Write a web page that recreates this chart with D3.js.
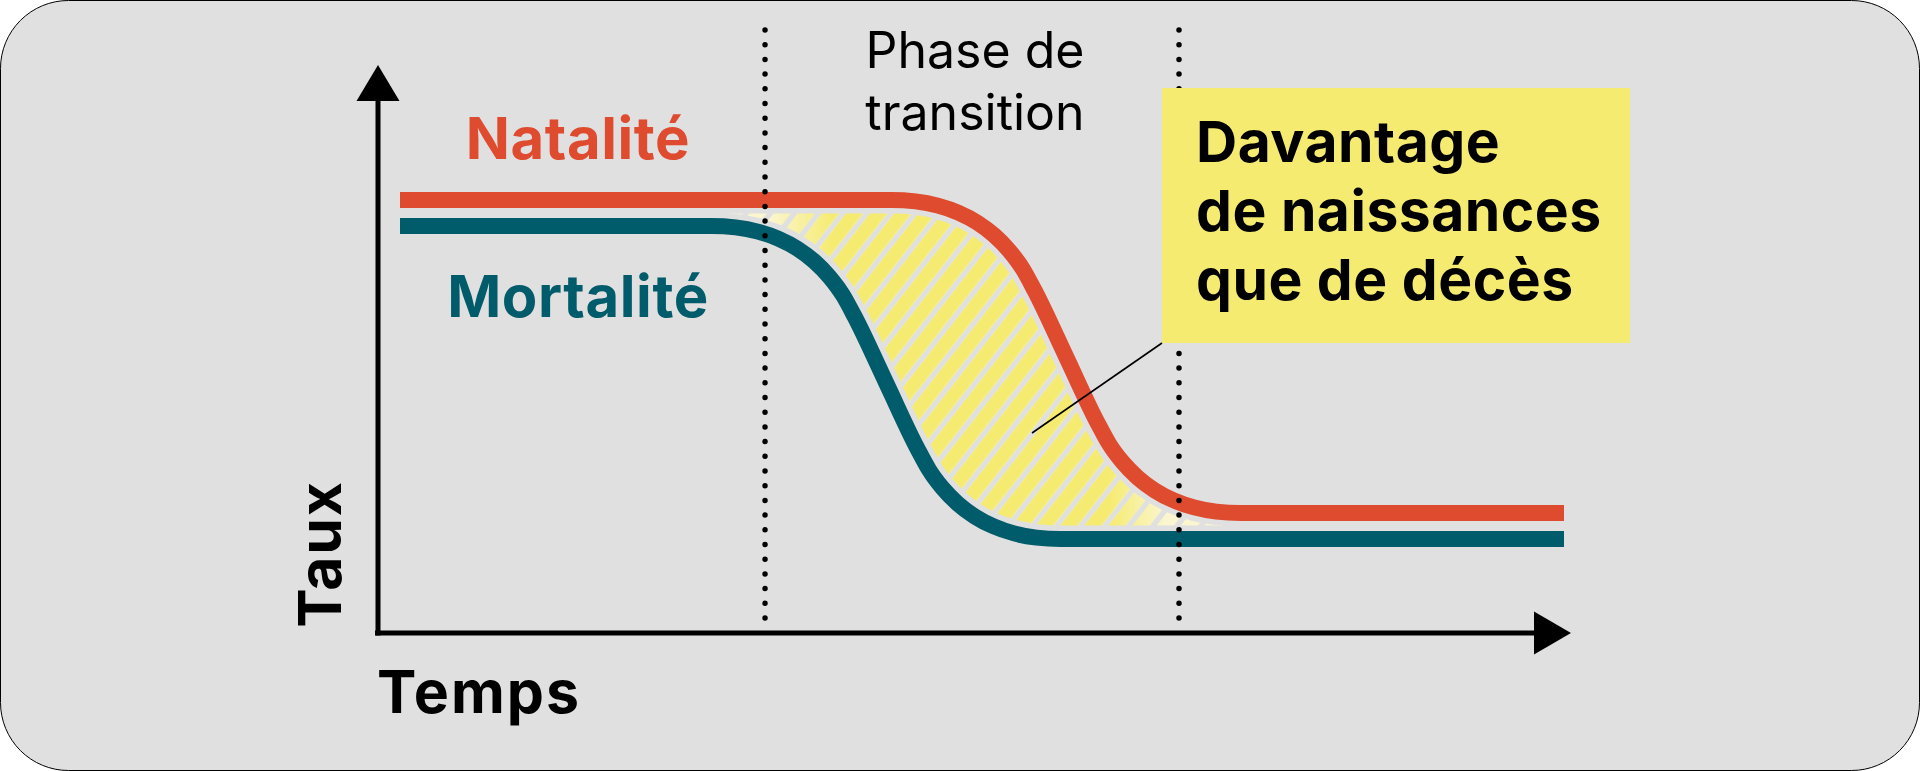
<!DOCTYPE html>
<html lang="fr">
<head>
<meta charset="utf-8">
<script src="https://cdn.jsdelivr.net/npm/d3@7"></script>
<style>
  html, body { margin: 0; padding: 0; background: #fff; }
  svg { display: block; }
  text { font-family: Inter, "Noto Sans", sans-serif; }
</style>
</head>
<body>
<div id="main"></div>
<script>
const W = 1920, H = 771;

// courbes : [temps, taux]
const natalite = [[2.2, 86.6], [51.35, 86.6], [53.76, 86.32], [55.99, 85.48], [58.05, 84.06], [59.93, 82.08],
  [61.62, 79.54], [63.14, 76.44], [64.49, 72.78], [65.65, 68.54], [68.8, 55.3], [71.95, 42.06],
  [73.11, 37.82], [74.46, 34.16], [75.98, 31.06], [77.68, 28.52], [79.55, 26.54], [81.61, 25.12],
  [83.84, 24.28], [86.25, 24], [118.6, 24]];
const mortalite = [[2.2, 81.4], [33.35, 81.4], [35.76, 81.12], [37.99, 80.28], [40.05, 78.86], [41.93, 76.88],
  [43.62, 74.34], [45.14, 71.24], [46.49, 67.58], [47.65, 63.34], [50.8, 50.1], [53.95, 36.86],
  [55.11, 32.62], [56.46, 28.96], [57.98, 25.86], [59.68, 23.32], [61.55, 21.34], [63.61, 19.92],
  [65.84, 19.08], [68.25, 18.8], [118.6, 18.8]];
const phaseBounds = [38.7, 80.1];
const seriesLabels = ["Natalité", "Mortalité"];
const phaseLabel = ["Phase de", "transition"];
const calloutLines = ["Davantage", "de naissances", "que de décès"];
const axisTitles = ["Temps", "Taux"];

const colors = { nat: "#df4b2f", mort: "#005b6a", yellow: "#f5eb70", pale: "#fbf6cf", bg: "#e0e0e0" };

const x = d3.scaleLinear().domain([0, 120]).range([378, 1578]);
const y = d3.scaleLinear().domain([0, 100]).range([633, 133]);

const svg = d3.select("#main").append("svg")
  .attr("width", W)
  .attr("height", H);

const defs = svg.append("defs");

// hachures jaunes
function stripes(id, color) {
  const p = defs.append("pattern")
    .attr("id", id)
    .attr("patternUnits", "userSpaceOnUse")
    .attr("width", 19)
    .attr("height", 40)
    .attr("patternTransform", "rotate(38)");
  p.append("rect").attr("width", 13.6).attr("height", 40).attr("fill", color);
}
stripes("hatch", colors.yellow);
stripes("hatchPale", colors.pale);

const grad = defs.append("linearGradient")
  .attr("id", "fade")
  .attr("gradientUnits", "userSpaceOnUse")
  .attr("x1", 770).attr("x2", 1165).attr("y1", 0).attr("y2", 0);
grad.append("stop").attr("offset", 0).attr("stop-color", "#000");
grad.append("stop").attr("offset", 0.16).attr("stop-color", "#fff");
grad.append("stop").attr("offset", 0.86).attr("stop-color", "#fff");
grad.append("stop").attr("offset", 1).attr("stop-color", "#000");

defs.append("mask").attr("id", "fadeMask")
  .append("rect").attr("width", W).attr("height", H).attr("fill", "url(#fade)");

const line = d3.line()
  .x(d => x(d[0]))
  .y(d => y(d[1]))
  .curve(d3.curveMonotoneX);

// zone au-dessus de la mortalité
defs.append("clipPath").attr("id", "aboveMort")
  .append("path")
  .attr("d", d3.area().x(d => x(d[0])).y0(0).y1(d => y(d[1])).curve(d3.curveMonotoneX)(mortalite));

// fond arrondi
svg.append("rect")
  .attr("x", 0.5).attr("y", 0.5)
  .attr("width", W - 1).attr("height", H - 1)
  .attr("rx", 68).attr("ry", 68)
  .attr("fill", colors.bg)
  .attr("stroke", "#000")
  .attr("stroke-width", 1);

const underNat = d3.area()
  .x(d => x(d[0]))
  .y0(y(0))
  .y1(d => y(d[1]))
  .curve(d3.curveMonotoneX);

const hatchG = svg.append("g").attr("clip-path", "url(#aboveMort)");
hatchG.append("path").attr("d", underNat(natalite)).attr("fill", "url(#hatchPale)");
hatchG.append("path").attr("d", underNat(natalite)).attr("fill", "url(#hatch)").attr("mask", "url(#fadeMask)");

// marge grise autour des courbes
[natalite, mortalite].forEach(s => {
  svg.append("path")
    .attr("d", line(s))
    .attr("fill", "none")
    .attr("stroke", colors.bg)
    .attr("stroke-width", 27);
});

svg.append("path")
  .attr("d", line(natalite))
  .attr("fill", "none")
  .attr("stroke", colors.nat)
  .attr("stroke-width", 16);

svg.append("path")
  .attr("d", line(mortalite))
  .attr("fill", "none")
  .attr("stroke", colors.mort)
  .attr("stroke-width", 16);

// bornes de la phase de transition
svg.selectAll("line.phase")
  .data(phaseBounds)
  .enter()
  .append("line")
  .attr("class", "phase")
  .attr("x1", d => x(d)).attr("x2", d => x(d))
  .attr("y1", y(120.6)).attr("y2", y(2))
  .attr("stroke", "#000")
  .attr("stroke-width", 5.5)
  .attr("stroke-linecap", "round")
  .attr("stroke-dasharray", "0 14.7");

// axes fléchés
const xTip = 119.3, yTip = 113.6;
svg.append("line")
  .attr("x1", x(0) - 3).attr("x2", x(xTip) - 36)
  .attr("y1", y(0)).attr("y2", y(0))
  .attr("stroke", "#000").attr("stroke-width", 5);
svg.append("path")
  .attr("d", `M${x(xTip) - 37},${y(0) - 21.5}L${x(xTip)},${y(0)}L${x(xTip) - 37},${y(0) + 21.5}Z`)
  .attr("fill", "#000");
svg.append("line")
  .attr("x1", x(0)).attr("x2", x(0))
  .attr("y1", y(0) + 2.5).attr("y2", y(yTip) + 35)
  .attr("stroke", "#000").attr("stroke-width", 5);
svg.append("path")
  .attr("d", `M${x(0) - 21.5},${y(yTip) + 36}L${x(0)},${y(yTip)}L${x(0) + 21.5},${y(yTip) + 36}Z`)
  .attr("fill", "#000");

// étiquettes des séries
svg.selectAll("text.series")
  .data(seriesLabels)
  .enter()
  .append("text")
  .attr("class", "series")
  .attr("x", 578)
  .attr("y", (d, i) => i === 0 ? 159 : 317)
  .attr("text-anchor", "middle")
  .attr("font-size", 58)
  .attr("font-weight", 700)
  .attr("letter-spacing", 0.6)
  .attr("fill", (d, i) => i === 0 ? colors.nat : colors.mort)
  .text(d => d);

svg.append("text")
  .attr("text-anchor", "middle")
  .attr("font-size", 50)
  .attr("fill", "#000")
  .selectAll("tspan")
  .data(phaseLabel)
  .enter()
  .append("tspan")
  .attr("x", 975)
  .attr("y", (d, i) => 68 + i * 62)
  .text(d => d);

// encadré
svg.append("line")
  .attr("x1", 1162).attr("y1", 343)
  .attr("x2", 1032).attr("y2", 433)
  .attr("stroke", "#000").attr("stroke-width", 1.6);

svg.append("rect")
  .attr("x", 1162).attr("y", 88)
  .attr("width", 468).attr("height", 255)
  .attr("fill", colors.yellow);

svg.append("text")
  .attr("font-size", 57)
  .attr("font-weight", 700)
  .attr("letter-spacing", 0.5)
  .attr("fill", "#000")
  .selectAll("tspan")
  .data(calloutLines)
  .enter()
  .append("tspan")
  .attr("x", 1196)
  .attr("y", (d, i) => 162 + i * 69)
  .text(d => d);

// titres des axes
svg.append("text")
  .attr("x", 377).attr("y", 713)
  .attr("font-size", 59).attr("font-weight", 700)
  .attr("letter-spacing", 2)
  .text(axisTitles[0]);

svg.append("text")
  .attr("transform", "translate(341,554) rotate(-90)")
  .attr("text-anchor", "middle")
  .attr("font-size", 59).attr("font-weight", 700)
  .attr("letter-spacing", 1.8)
  .text(axisTitles[1]);
</script>
</body>
</html>
